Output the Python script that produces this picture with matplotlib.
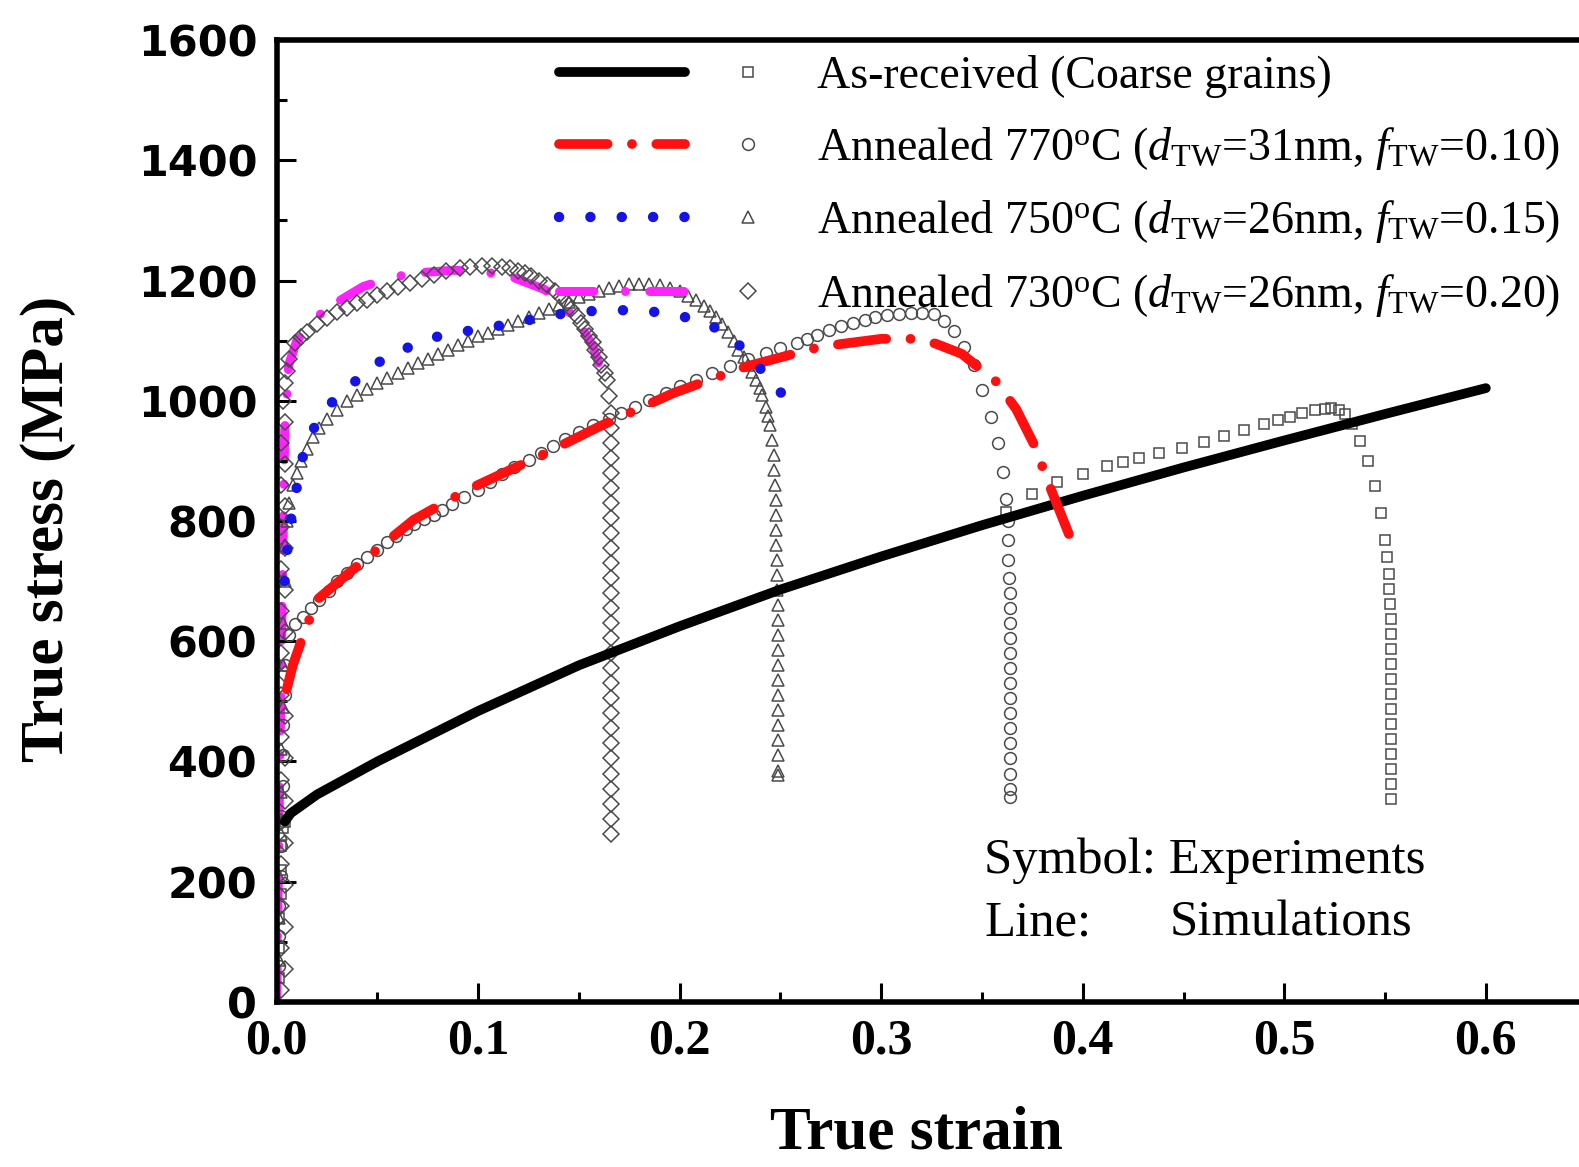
import matplotlib
matplotlib.use('Agg')
import matplotlib.pyplot as plt
from matplotlib.ticker import MultipleLocator
from matplotlib.legend_handler import HandlerTuple

plt.rcParams['font.family'] = ['Liberation Serif', 'DejaVu Serif']
plt.rcParams['mathtext.fontset'] = 'custom'
plt.rcParams['mathtext.rm'] = 'Liberation Serif'
plt.rcParams['mathtext.it'] = 'Liberation Serif:italic'

# ---- simulations (lines) ----
ar_sim_strain = [0.004, 0.007, 0.02, 0.05, 0.1, 0.15, 0.2, 0.25, 0.3, 0.35, 0.4, 0.45, 0.5, 0.55, 0.6]
ar_sim_stress = [300, 314, 345, 400, 484, 560, 625, 686, 741, 793, 842, 889, 934, 978, 1021]

a770_sim_strain = [0.005, 0.008, 0.013, 0.02, 0.036, 0.054, 0.068, 0.084, 0.098, 0.13, 0.16, 0.197,
                   0.233, 0.27, 0.3, 0.315, 0.327, 0.34, 0.357, 0.367, 0.376, 0.383, 0.396]
a770_sim_stress = [520, 560, 608, 669, 714, 764, 802, 832, 857, 907, 957, 1013,
                   1057, 1090, 1103, 1103, 1095, 1078, 1032, 986, 926, 863, 754]

a750_sim_strain = [0.004, 0.006, 0.0094, 0.013, 0.018, 0.027, 0.036, 0.05, 0.066, 0.08, 0.098, 0.118,
                   0.137, 0.155, 0.176, 0.194, 0.2115, 0.2257, 0.236, 0.245, 0.253, 0.259]
a750_sim_stress = [700, 780, 846, 907, 952, 996, 1024, 1063, 1090, 1107, 1118, 1129,
                   1143, 1149, 1151, 1146, 1132, 1107, 1068, 1035, 1002, 977]

a730_sim_strain = [0.0, 0.002, 0.004, 0.006, 0.01, 0.02, 0.032, 0.043, 0.057, 0.068, 0.087, 0.1, 0.116,
                   0.133, 0.142, 0.151, 0.157, 0.162]
a730_sim_stress = [0, 500, 950, 1060, 1100, 1140, 1168, 1190, 1205, 1212, 1217, 1216, 1207,
                   1185, 1160, 1124, 1090, 1040]

# ---- experiments (symbols) ----
ar_exp_strain = [0.001, 0.001, 0.001, 0.002, 0.002, 0.002, 0.003, 0.004, 0.362, 0.375, 0.387, 0.4,
                 0.412, 0.42, 0.428, 0.438, 0.449, 0.46, 0.47, 0.48, 0.49, 0.497, 0.503, 0.509, 0.515,
                 0.52, 0.523, 0.527, 0.53, 0.5335, 0.5375, 0.5417, 0.5448, 0.5478, 0.5499, 0.551, 0.552,
                 0.552, 0.5525, 0.553, 0.553, 0.553, 0.553, 0.553, 0.553, 0.553, 0.553, 0.553, 0.553,
                 0.553, 0.553, 0.553]
ar_exp_stress = [40, 90, 140, 180, 220, 260, 290, 300, 815, 845, 865, 879,
                 891, 898, 905, 913, 922, 932, 942, 952, 962, 968, 973, 979, 985,
                 987, 988, 985, 978, 962, 933, 899, 859, 814, 769, 740, 712,
                 687, 662, 637, 612, 587, 562, 537, 512, 487, 462, 437, 412,
                 387, 362, 337]

a770_exp_strain = [0.001, 0.001, 0.001, 0.002, 0.002, 0.002, 0.003, 0.003, 0.003, 0.004, 0.004, 0.006,
                   0.009, 0.013, 0.017, 0.021, 0.026, 0.03, 0.035, 0.04, 0.045, 0.05, 0.055, 0.059,
                   0.064, 0.068, 0.073, 0.078, 0.082, 0.087, 0.093, 0.1, 0.106, 0.112, 0.118, 0.125,
                   0.131, 0.137, 0.143, 0.15, 0.157, 0.165, 0.171, 0.178, 0.185, 0.193, 0.2, 0.208,
                   0.216, 0.225, 0.234, 0.243, 0.25, 0.258, 0.263, 0.268, 0.274, 0.28, 0.286, 0.292,
                   0.297, 0.303, 0.309, 0.315, 0.32, 0.326, 0.331, 0.336, 0.341, 0.346, 0.35, 0.3545,
                   0.358, 0.3606, 0.3617, 0.3627, 0.3627, 0.363, 0.3635, 0.3637, 0.3637, 0.3637,
                   0.3637, 0.3637, 0.3637, 0.3637, 0.3637, 0.3637, 0.3637, 0.3637, 0.3637, 0.3637,
                   0.3637, 0.3637]
a770_exp_stress = [60, 110, 160, 210, 260, 310, 360, 410, 460, 510, 560, 610,
                   628, 641, 655, 668, 684, 700, 714, 728, 740, 752, 765, 775,
                   786, 795, 803, 810, 818, 828, 840, 852, 865, 878, 890, 902,
                   913, 924, 936, 948, 959, 970, 980, 990, 1001, 1013, 1024, 1035,
                   1046, 1058, 1069, 1079, 1088, 1096, 1103, 1110, 1118, 1125, 1130, 1135,
                   1139, 1142, 1145, 1146, 1146, 1144, 1132, 1116, 1090, 1059, 1018, 973,
                   930, 882, 837, 800, 768, 735, 705, 680, 655, 630,
                   605, 580, 555, 530, 505, 480, 455, 430, 405, 380,
                   355, 341]

a750_exp_strain = [0.001, 0.001, 0.001, 0.002, 0.002, 0.002, 0.003, 0.003, 0.003, 0.004, 0.004, 0.005,
                   0.006, 0.008, 0.01, 0.012, 0.015, 0.018, 0.021, 0.025, 0.03, 0.035, 0.04, 0.045,
                   0.05, 0.055, 0.06, 0.065, 0.07, 0.075, 0.08, 0.085, 0.09, 0.095, 0.1, 0.105,
                   0.11, 0.115, 0.12, 0.125, 0.13, 0.135, 0.14, 0.145, 0.15, 0.155, 0.16, 0.165,
                   0.17, 0.175, 0.18, 0.185, 0.19, 0.195, 0.2, 0.204, 0.208, 0.212, 0.215, 0.218,
                   0.221, 0.224, 0.227, 0.229, 0.232, 0.234, 0.236, 0.238, 0.24, 0.241, 0.243, 0.244,
                   0.245, 0.246, 0.247, 0.247, 0.2475, 0.248, 0.248, 0.248, 0.248, 0.2485, 0.2485, 0.2485,
                   0.249, 0.249, 0.249, 0.249, 0.249, 0.249, 0.249, 0.249, 0.249, 0.249, 0.249, 0.249,
                   0.249]
a750_exp_stress = [70, 140, 210, 280, 350, 420, 490, 560, 630, 700, 760, 800,
                   830, 860, 880, 900, 920, 940, 955, 970, 985, 1000, 1010, 1020,
                   1029, 1038, 1047, 1055, 1063, 1070, 1078, 1085, 1093, 1100, 1107, 1113,
                   1120, 1126, 1133, 1139, 1146, 1152, 1159, 1165, 1172, 1178, 1183, 1188,
                   1191, 1194, 1195, 1194, 1192, 1188, 1182, 1174, 1167, 1158, 1150, 1140,
                   1128, 1115, 1100, 1085, 1072, 1060, 1048, 1035, 1022, 1010, 990, 975,
                   960, 935, 910, 885, 860, 835, 810, 785, 760, 735, 710, 685,
                   660, 635, 610, 585, 560, 535, 510, 485, 460, 435, 410, 385,
                   378]

a730_exp_strain = [0.002, 0.004, 0.002, 0.004, 0.002, 0.004, 0.002, 0.004, 0.002, 0.004, 0.002, 0.004,
                   0.002, 0.004, 0.002, 0.004, 0.002, 0.004, 0.002, 0.004, 0.002, 0.004, 0.002, 0.004,
                   0.002, 0.004, 0.002, 0.004, 0.003, 0.004, 0.005,
                   0.006, 0.009, 0.012, 0.015, 0.02, 0.025, 0.03, 0.035, 0.04,
                   0.045, 0.05, 0.055, 0.06, 0.066, 0.072, 0.078, 0.084, 0.091, 0.096, 0.102, 0.107,
                   0.112, 0.116, 0.12, 0.123, 0.126, 0.13, 0.134, 0.138, 0.141, 0.144, 0.146, 0.149,
                   0.151, 0.153, 0.155, 0.157, 0.158, 0.16, 0.161, 0.163, 0.164, 0.165, 0.166, 0.166,
                   0.166, 0.166, 0.166, 0.166, 0.166, 0.166, 0.166, 0.166, 0.166, 0.166, 0.166, 0.166,
                   0.166, 0.166, 0.166, 0.166, 0.166, 0.166, 0.166, 0.166, 0.166, 0.166, 0.166, 0.166,
                   0.166, 0.166, 0.166]
a730_exp_stress = [20, 55, 90, 125, 160, 195, 230, 265, 300, 335, 370, 405,
                   440, 475, 510, 545, 580, 615, 650, 685, 720, 755, 790, 825,
                   860, 895, 930, 965, 1000, 1030, 1050,
                   1070, 1096, 1106, 1115, 1127, 1138, 1147, 1155, 1162,
                   1168, 1176, 1183, 1190, 1196, 1203, 1210, 1216, 1221, 1223, 1224, 1224,
                   1223, 1220, 1216, 1212, 1207, 1200, 1192, 1183, 1173, 1163, 1152, 1141,
                   1129, 1119, 1108, 1097, 1085, 1072, 1060, 1047, 1035, 1008, 980, 955,
                   930, 905, 880, 855, 830, 805, 780, 755, 730, 705, 680, 655,
                   630, 605, 580, 555, 530, 505, 480, 455, 430, 405, 380, 355,
                   330, 305, 280]

labels = [
    'As-received (Coarse grains)',
    r'Annealed 770$^{\rm o}$C ($d_{\rm TW}$=31nm, $f_{\rm TW}$=0.10)',
    r'Annealed 750$^{\rm o}$C ($d_{\rm TW}$=26nm, $f_{\rm TW}$=0.15)',
    r'Annealed 730$^{\rm o}$C ($d_{\rm TW}$=26nm, $f_{\rm TW}$=0.20)',
]

x_ticks = [0.0, 0.1, 0.2, 0.3, 0.4, 0.5, 0.6]
x_tick_labels = ['0.0', '0.1', '0.2', '0.3', '0.4', '0.5', '0.6']
y_ticks = [0, 200, 400, 600, 800, 1000, 1200, 1400, 1600]
y_tick_labels = ['0', '200', '400', '600', '800', '1000', '1200', '1400', '1600']

fig = plt.figure(figsize=(15.79, 11.67), dpi=100)
ax = fig.add_axes([0.1752, 0.1414, 0.8296, 0.8243])

# experiments: grey open symbols
exp_style = dict(ls='none', mfc='none', mec='#4a4a4a', mew=1.1, zorder=2)
p_ar, = ax.plot(ar_exp_strain, ar_exp_stress, marker='s', ms=7, **exp_style)
p_770, = ax.plot(a770_exp_strain, a770_exp_stress, marker='o', ms=8.5, **exp_style)
p_750, = ax.plot(a750_exp_strain, a750_exp_stress, marker='^', ms=8.5, **exp_style)
p_730, = ax.plot(a730_exp_strain, a730_exp_stress, marker='D', ms=8, **exp_style)

# simulations
l_ar, = ax.plot(ar_sim_strain, ar_sim_stress, color='black', lw=7,
                solid_capstyle='round', zorder=4)
l_770, = ax.plot(a770_sim_strain, a770_sim_stress, color='#ff1010', lw=7,
                 ls=(0, (5, 2.5, 0.01, 2.5)), dash_capstyle='round', zorder=4)
l_750, = ax.plot(a750_sim_strain, a750_sim_stress, color='#1414e6', lw=7.5,
                 ls=(0, (0.01, 3.0)), dash_capstyle='round', zorder=4)
l_730, = ax.plot(a730_sim_strain, a730_sim_stress, color='#ff22ff', lw=6.5,
                 ls=(0, (3.8, 3.5, 0.01, 2.7)), dash_capstyle='round', zorder=1.5)

ax.set_xlim(0, 0.65)
ax.set_ylim(0, 1600)

for s in ax.spines.values():
    s.set_linewidth(4)

ax.set_xticks(x_ticks, labels=x_tick_labels, fontsize=36, fontweight='bold',
              fontfamily='Liberation Serif')
ax.set_yticks(y_ticks, labels=y_tick_labels, fontsize=31, fontweight='bold',
              fontfamily='DejaVu Sans')
ax.xaxis.set_minor_locator(MultipleLocator(0.05))
ax.yaxis.set_minor_locator(MultipleLocator(100))
ax.tick_params(which='major', direction='in', length=14, width=2.2, top=False, right=False)
ax.tick_params(which='minor', direction='in', length=7, width=2.2, top=False, right=False)
ax.tick_params(axis='y', pad=14)
ax.tick_params(axis='x', pad=12)

ax.set_xlabel('True strain', fontsize=44, fontweight='bold')
ax.xaxis.set_label_coords(0.488, -0.108)
ax.set_ylabel('True stress (MPa)', fontsize=44, fontweight='bold')
ax.yaxis.set_label_coords(-0.153, 0.4917)

ax.legend([(l_ar, p_ar), (l_770, p_770), (l_750, p_750), (l_730, p_730)], labels,
          handler_map={tuple: HandlerTuple(ndivide=None, pad=0)},
          loc='upper left', bbox_to_anchor=(559 / 1579, 1 - 55 / 1167),
          bbox_transform=fig.transFigure, frameon=False, fontsize=33,
          handlelength=5.5, handletextpad=0.12, labelspacing=0.58,
          borderpad=0, borderaxespad=0)

fig.text(984 / 1579, 1 - 861 / 1167, 'Symbol: Experiments', fontsize=36.5, va='center', ha='left')
fig.text(984 / 1579, 1 - 923 / 1167, 'Line:', fontsize=36.5, va='center', ha='left')
fig.text(1170 / 1579, 1 - 923 / 1167, 'Simulations', fontsize=36.5, va='center', ha='left')

fig.savefig('out.png', dpi=100)
